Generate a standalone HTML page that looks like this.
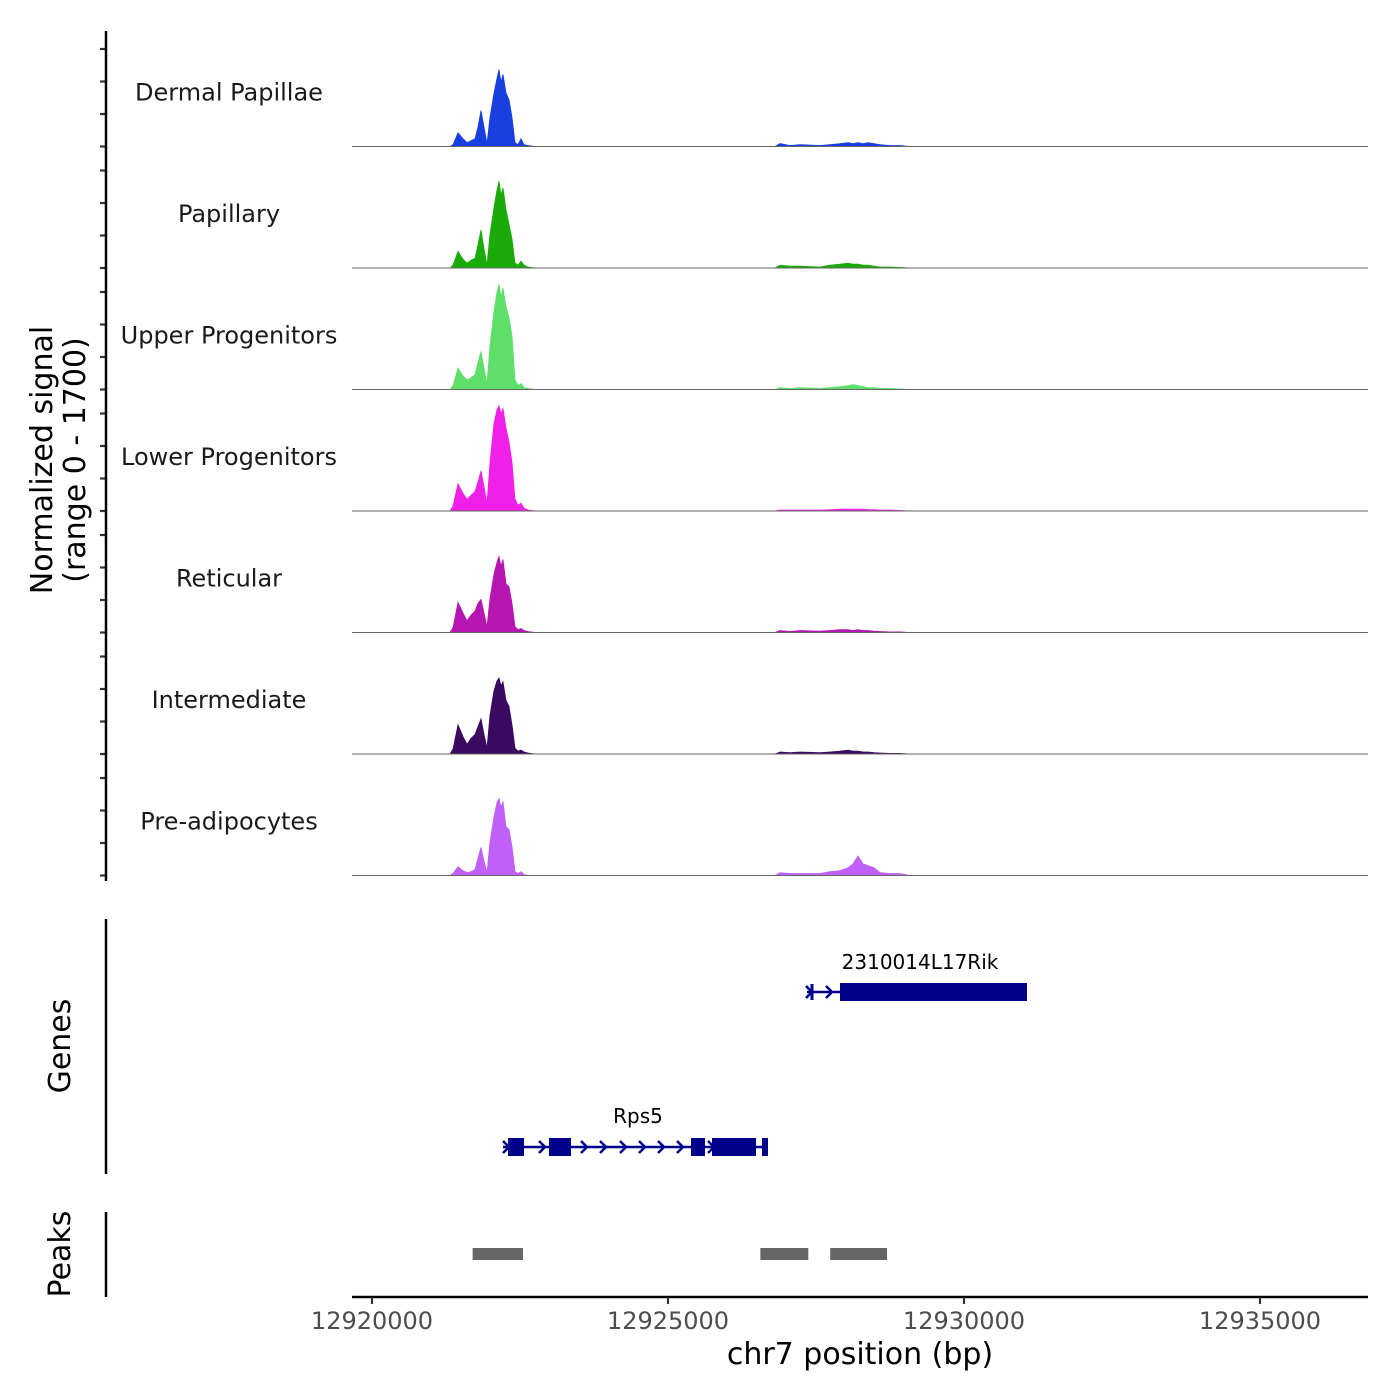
<!DOCTYPE html>
<html><head><meta charset="utf-8"><style>
html,body{margin:0;padding:0;background:#fff}
svg{display:block;font-family:"DejaVu Sans","Liberation Sans",sans-serif}
</style></head><body>
<svg id="chart" width="1400" height="1400" viewBox="0 0 1400 1400">
<g id="tracks"></g>
<g id="axes"></g>
<g id="genes"></g>
<g id="peaks"></g>
<text x="52" y="460" transform="rotate(-90 52 460)" text-anchor="middle" font-size="30" fill="#000">Normalized signal</text>
<text x="85" y="460" transform="rotate(-90 85 460)" text-anchor="middle" font-size="30" fill="#000">(range 0 - 1700)</text>
<text x="70" y="1046" transform="rotate(-90 70 1046)" text-anchor="middle" font-size="30" fill="#000">Genes</text>
<text x="70" y="1254" transform="rotate(-90 70 1254)" text-anchor="middle" font-size="30" fill="#000">Peaks</text>
<text x="860" y="1364" text-anchor="middle" font-size="30" fill="#000">chr7 position (bp)</text>
</svg>
<script>
const trackNames = ["Dermal Papillae","Papillary","Upper Progenitors","Lower Progenitors","Reticular","Intermediate","Pre-adipocytes"];
const trackColors = ["#1a3fe0","#1aab0a","#5ddf6a","#f020e8","#b516b0","#3a0a60","#c060f8"];
const positions = [12921317,12921368,12921453,12921537,12921605,12921672,12921740,12921791,12921841,12921892,12921943,12921993,12922061,12922111,12922145,12922179,12922213,12922264,12922314,12922365,12922416,12922466,12922517,12922568,12922635,12922753,
12926807,12926892,12927061,12927230,12927568,12927736,12927905,12928041,12928125,12928209,12928294,12928378,12928480,12928581,12928750,12928919,12929088,12931000,12933000,12935000];
const sigDermal = [0,30,210,120,60,90,120,300,555,300,45,450,825,1050,1185,990,1110,825,720,450,60,30,120,30,15,0, 0,45,15,30,15,30,45,60,45,60,45,60,45,30,15,15,0,0,0,0];
const sigPapillary = [0,45,255,135,75,120,150,360,585,300,45,525,930,1200,1335,1125,1230,900,675,450,75,45,105,45,15,0, 0,45,30,30,15,45,60,75,60,60,45,45,30,15,15,10,0,0,0,0];
const sigUpper = [0,60,330,210,150,180,225,420,585,330,90,675,1200,1500,1620,1425,1560,1275,1110,825,150,60,90,30,15,0, 0,30,15,30,15,30,45,60,75,60,45,30,30,15,15,10,0,0,0,0];
const sigLower = [0,75,420,270,180,240,300,450,615,375,120,750,1350,1560,1620,1500,1575,1275,1065,750,180,90,120,45,15,0, 0,15,15,15,15,20,30,30,30,30,30,20,20,15,15,10,0,0,0,0];
const sigReticular = [0,75,465,300,180,270,330,450,510,300,90,525,900,1080,1170,1020,1125,750,705,450,90,45,60,30,15,0, 0,30,15,30,20,30,45,45,30,45,30,30,20,15,10,10,0,0,0,0];
const sigIntermediate = [0,75,450,270,150,240,300,420,540,300,90,600,975,1125,1170,1050,1110,825,735,450,90,45,60,30,15,0, 0,30,20,30,20,30,45,60,45,45,30,30,20,15,10,10,0,0,0,0];
const sigPreadipocytes = [0,30,135,75,45,60,90,270,435,225,45,525,900,1125,1185,1050,1140,750,705,450,60,30,60,15,0,0, 0,45,30,30,30,60,75,120,180,300,180,150,120,45,30,30,0,0,0,0];
const trackSignals = [sigDermal,sigPapillary,sigUpper,sigLower,sigReticular,sigIntermediate,sigPreadipocytes];
const xTicks = [12920000,12925000,12930000,12935000];
const yTickValues = [0,500,1000,1500];
const peakStarts = [12921700,12926560,12927740];
const peakEnds = [12922550,12927370,12928700];

const NS="http://www.w3.org/2000/svg";
const X0=372, BP0=12920000, PXPB=296/5000;
const xs = bp => X0 + (bp-BP0)*PXPB;
const PLOT_L=352, PLOT_R=1368, TRACK_H=121.5, FIRST_BASE=146.5;
const ys = v => v/1700*110.5;
function mk(tag, attrs, parent){const e=document.createElementNS(NS,tag);for(const k in attrs)e.setAttribute(k,attrs[k]);parent.appendChild(e);return e;}

const tracks=document.getElementById('tracks');
const axes=document.getElementById('axes');
trackNames.forEach((name,i)=>{
  const base = FIRST_BASE + i*TRACK_H;
  const sig = trackSignals[i];
  let d = `M${PLOT_L},${base} L${xs(positions[0])},${base}`;
  positions.forEach((p,j)=>{ d += ` L${xs(p).toFixed(1)},${(base-ys(sig[j])).toFixed(1)}`; });
  d += ` L${xs(positions[positions.length-1])},${base} L${PLOT_R},${base} Z`;
  const a = mk('path',{d:d,fill:trackColors[i],stroke:trackColors[i],'stroke-width':0.8},tracks);
  
  
  const bl = mk('line',{x1:PLOT_L,x2:PLOT_R,y1:base,y2:base,stroke:'#666','stroke-width':1},tracks);
  
  
  const t = mk('text',{x:229,y:base-46,'text-anchor':'middle','font-size':24,fill:'#1a1a1a'},tracks);
  t.textContent=name;
  
  
  yTickValues.forEach(v=>{
    const tk = mk('line',{x1:100,x2:106,y1:base-ys(v),y2:base-ys(v),stroke:'#333','stroke-width':2.2},axes);
    
    
  });
});
mk('line',{x1:106,x2:106,y1:31,y2:881,stroke:'#000','stroke-width':2.5},axes);
mk('line',{x1:106,x2:106,y1:919,y2:1174,stroke:'#000','stroke-width':2.5},axes);
mk('line',{x1:106,x2:106,y1:1212,y2:1297,stroke:'#000','stroke-width':2.5},axes);
mk('line',{x1:PLOT_L,x2:PLOT_R,y1:1297,y2:1297,stroke:'#000','stroke-width':2.5},axes);
xTicks.forEach(v=>{
  const tk=mk('line',{x1:xs(v),x2:xs(v),y1:1297,y2:1304,stroke:'#333','stroke-width':2.2},axes);
  
  
  const tl=mk('text',{x:xs(v),y:1329,'text-anchor':'middle','font-size':24,fill:'#4d4d4d'},axes);
  tl.textContent=v;
  
  
});

const genes=document.getElementById('genes');
const G='#00008b';
function arrow(x,y){const p=mk('path',{d:`M${x-4},${y-6} L${x+2},${y} L${x-4},${y+6}`,fill:'none',stroke:G,'stroke-width':2.5},genes);}
mk('line',{x1:807,x2:1027,y1:992,y2:992,stroke:G,'stroke-width':2.5},genes);
mk('rect',{x:840,y:983,width:187,height:18,fill:G},genes);
mk('line',{x1:812,x2:812,y1:984,y2:1000,stroke:G,'stroke-width':3},genes);
arrow(810,992);arrow(830,992);
let gt=mk('text',{x:920,y:969,'text-anchor':'middle','font-size':20,fill:'#000'},genes);gt.textContent='2310014L17Rik';

mk('line',{x1:503,x2:768,y1:1147,y2:1147,stroke:G,'stroke-width':2.5},genes);
[[508,16],[549,22],[691,14],[712,14],[722,34],[762,6]].forEach(e=>{const r=mk('rect',{x:e[0],y:1138,width:e[1],height:18,fill:G},genes);});
[507,543,585,604,624,643,662,681,712].forEach(x=>arrow(x,1147));
gt=mk('text',{x:638,y:1123,'text-anchor':'middle','font-size':20,fill:'#000'},genes);gt.textContent='Rps5';


const peaks=document.getElementById('peaks');
peakStarts.forEach((s,i)=>{
  const r=mk('rect',{x:xs(s),y:1248,width:xs(peakEnds[i])-xs(s),height:12,fill:'#666'},peaks);
  
  
});
</script>
</body></html>
